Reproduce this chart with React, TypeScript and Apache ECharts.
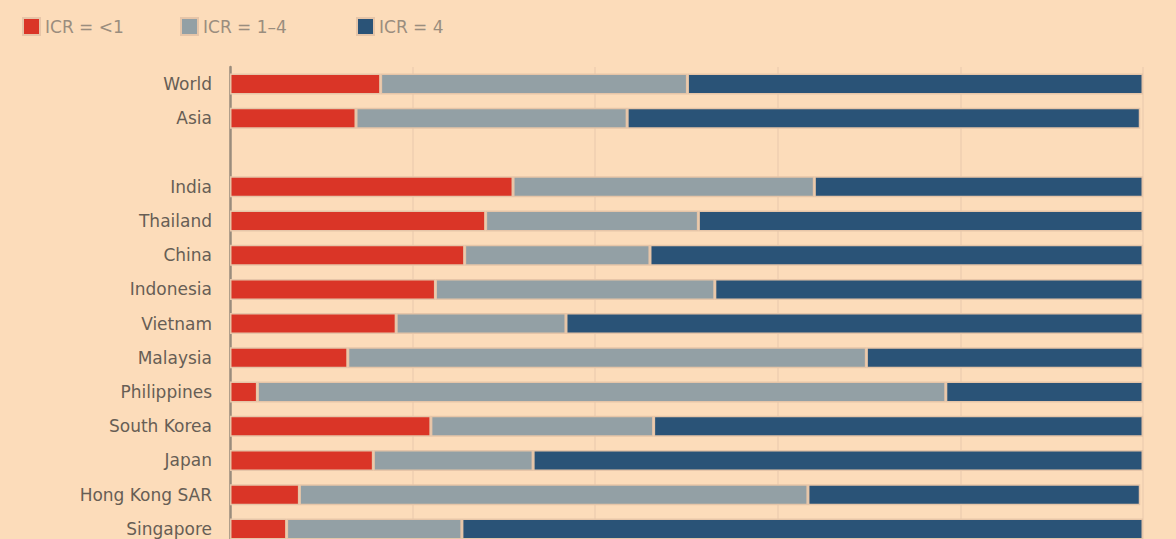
import React, { useEffect, useRef } from "react";
import * as echarts from "echarts";

const categories = [
  "World",
  "Asia",
  "",
  "India",
  "Thailand",
  "China",
  "Indonesia",
  "Vietnam",
  "Malaysia",
  "Philippines",
  "South Korea",
  "Japan",
  "Hong Kong SAR",
  "Singapore",
];
const below1 = [16.5, 13.8, null, 31, 28, 25.7, 22.5, 18.2, 12.9, 3, 22, 15.7, 7.6, 6.2];
const oneToFour = [33.6, 29.7, null, 33, 23.3, 20.3, 30.6, 18.6, 56.8, 75.4, 24.4, 17.5, 55.7, 19.2];
const above4 = [49.9, 56.2, null, 36, 48.7, 54, 46.9, 63.2, 30.3, 21.6, 53.6, 66.8, 36.4, 74.6];
const seriesNames = ["ICR = <1", "ICR = 1–4", "ICR = 4"];
const colors = ["#DA3527", "#93A0A5", "#2A5377"];
const bg = "#FCDCBA";
const legendLefts = [17, 175, 351];

export default function App() {
  const ref = useRef<HTMLDivElement>(null);
  useEffect(() => {
    const chart = echarts.init(ref.current!, null, { renderer: "svg" });
    const data = [below1, oneToFour, above4];
    chart.setOption({
      animation: false,
      backgroundColor: bg,
      textStyle: { fontFamily: "DejaVu Sans" },
      legend: seriesNames.map((n, i) => ({
        left: legendLefts[i],
        top: 12,
        itemWidth: 17,
        itemHeight: 17,
        icon: "rect",
        textStyle: { color: "#9A8D7E", fontSize: 17, fontFamily: "DejaVu Sans" },
        data: [n],
      })),
      grid: { left: 230, right: 33, top: 67, bottom: 0 },
      xAxis: {
        type: "value",
        min: 0,
        max: 100,
        interval: 20,
        axisLabel: { show: false },
        axisLine: { show: false },
        axisTick: { show: false },
        splitLine: { show: true, lineStyle: { color: "#EFCFB0", width: 1.5 } },
      },
      yAxis: {
        type: "category",
        inverse: true,
        data: categories,
        axisLine: { show: true, lineStyle: { color: "#9A8C7C", width: 2.5 } },
        axisTick: { show: false },
        axisLabel: { color: "#675E55", fontSize: 17, margin: 18, fontFamily: "DejaVu Sans" },
      },
      series: seriesNames.map((name, i) => ({
        name,
        type: "bar",
        stack: "total",
        barWidth: 21,
        data: data[i],
        itemStyle: { color: colors[i], borderColor: "#E6C5A8", borderWidth: 1.5 },
      })),
    });
    return () => chart.dispose();
  }, []);
  return (
    <div
      ref={ref}
      style={{ position: "fixed", left: 0, top: 0, width: 1176, height: 546 }}
    />
  );
}
